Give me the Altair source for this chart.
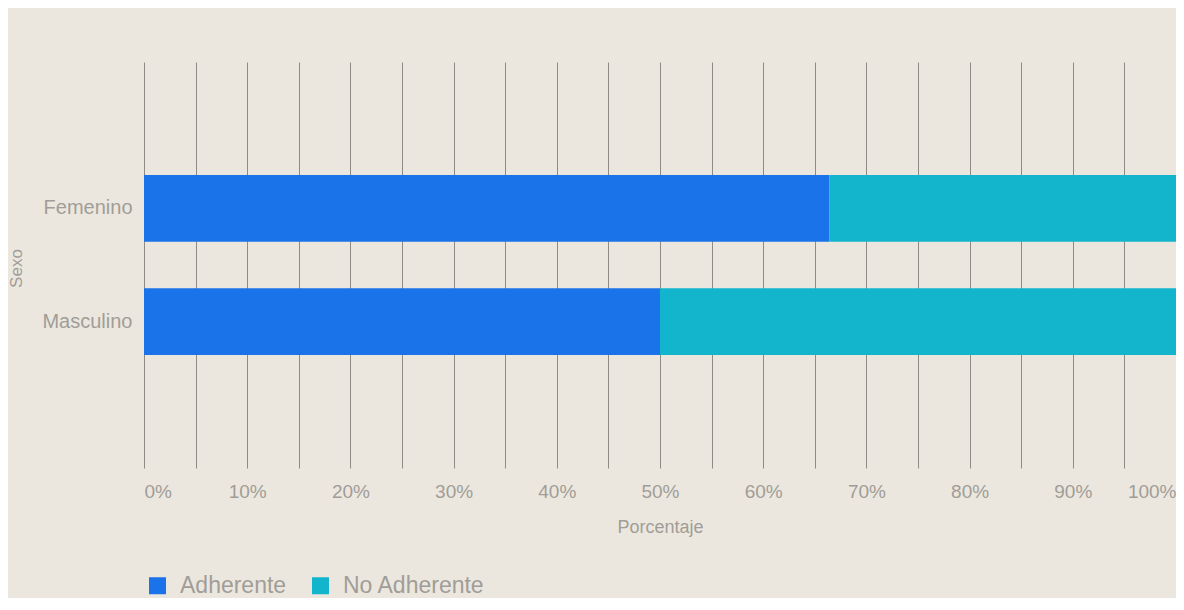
import altair as alt
import pandas as pd

sexo = ["Femenino", "Femenino", "Masculino", "Masculino"]
grupo = ["Adherente", "No Adherente", "Adherente", "No Adherente"]
porcentaje = [66.4, 33.6, 50.0, 50.0]
grid_values = [i / 20 for i in range(21)]

df = pd.DataFrame({"Sexo": sexo, "Grupo": grupo, "Porcentaje": porcentaje})

FONT = "Liberation Sans"
GRAY = "#a09d98"

chart = alt.Chart(df).mark_bar().encode(
    y=alt.Y("Sexo:N", sort=["Femenino", "Masculino"],
            scale=alt.Scale(paddingInner=0.41, paddingOuter=1.0),
            axis=alt.Axis(title="Sexo", domain=False, ticks=False, grid=False,
                          labelFont=FONT, labelFontSize=20, labelColor=GRAY,
                          labelPadding=12, titleFont=FONT, titleFontSize=17,
                          titleColor=GRAY, titleFontWeight="normal",
                          titleBaseline="middle", titleX=-128, titleY=206)),
    x=alt.X("Porcentaje:Q", stack="normalize",
            scale=alt.Scale(domain=[0, 1], nice=False),
            axis=alt.Axis(title="Porcentaje", values=grid_values, format=".0%",
                          labelExpr="round(datum.value*20) % 2 == 0 ? datum.label : ''",
                          labelFlush=True, domain=False, ticks=False, grid=True,
                          gridColor="#8e8a85", gridWidth=1, gridOpacity=1,
                          labelFont=FONT, labelFontSize=19, labelColor=GRAY,
                          labelPadding=14, titleFont=FONT, titleFontSize=18,
                          titleColor=GRAY, titleFontWeight="normal",
                          titlePadding=17)),
    color=alt.Color("Grupo:N",
                    scale=alt.Scale(domain=["Adherente", "No Adherente"],
                                    range=["#1a73e8", "#12b5cb"]),
                    legend=alt.Legend(title=None, orient="none", legendX=2, legendY=512,
                                      direction="horizontal", symbolType="square",
                                      symbolSize=289, symbolStrokeWidth=0,
                                      labelFont=FONT, labelFontSize=23,
                                      labelColor=GRAY, columnPadding=22,
                                      labelOffset=11)),
    order=alt.Order("Grupo:N"),
).properties(
    width=1032, height=406,
    background="#ece7de",
    padding={"left": 136, "top": 54, "right": 0, "bottom": 130},
    autosize=alt.AutoSizeParams(type="none"),
).configure_view(stroke=None)

chart.save("out.html", embed_options={"renderer": "svg", "actions": False})
